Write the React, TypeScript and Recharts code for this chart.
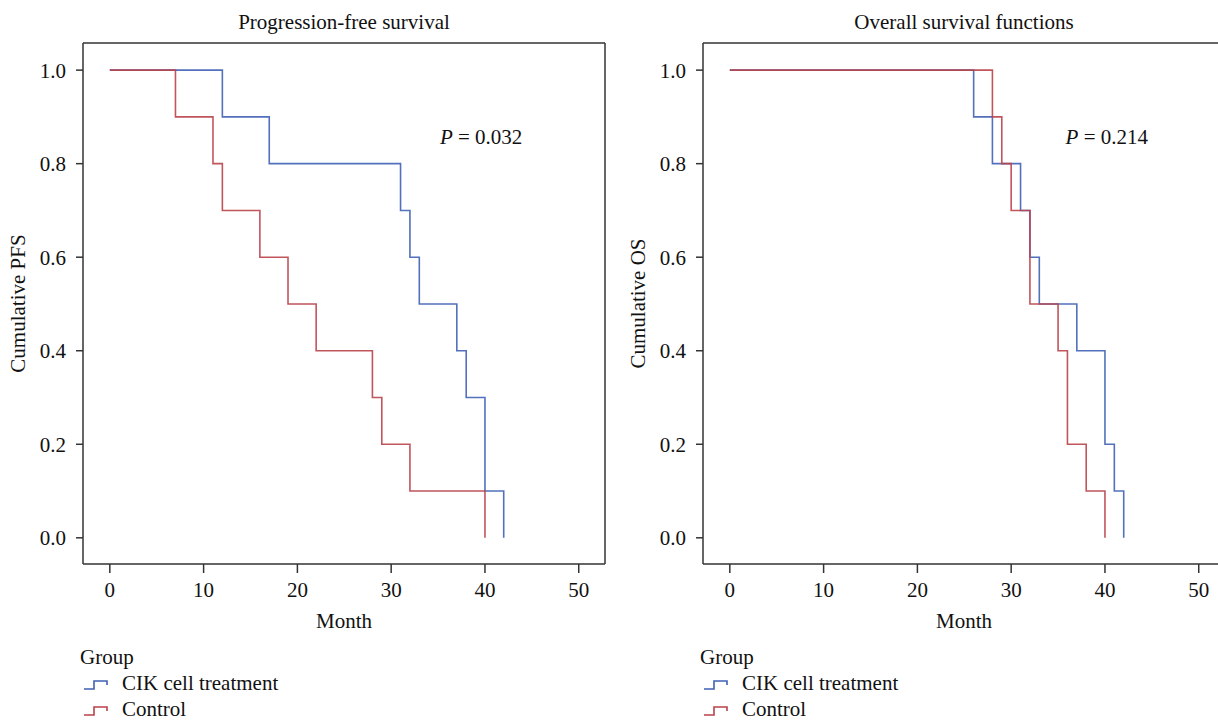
import {Legend, Line, LineChart, ReferenceDot, XAxis, YAxis} from "recharts";

const monthTicks = [0, 10, 20, 30, 40, 50];
const survTicks = [0, 0.2, 0.4, 0.6, 0.8, 1];

// progression-free survival
const pfsCikMonths = [0, 12, 17, 31, 32, 33, 37, 38, 40, 42];
const pfsCikSurv = [1, 0.9, 0.8, 0.7, 0.6, 0.5, 0.4, 0.3, 0.1, 0];
const pfsCtrlMonths = [0, 7, 11, 12, 16, 19, 22, 28, 29, 32, 40];
const pfsCtrlSurv = [1, 0.9, 0.8, 0.7, 0.6, 0.5, 0.4, 0.3, 0.2, 0.1, 0];

// overall survival
const osCikMonths = [0, 26, 28, 31, 32, 33, 37, 40, 41, 42];
const osCikSurv = [1, 0.9, 0.8, 0.7, 0.6, 0.5, 0.4, 0.2, 0.1, 0];
const osCtrlMonths = [0, 28, 29, 30, 32, 35, 36, 38, 40];
const osCtrlSurv = [1, 0.9, 0.8, 0.7, 0.5, 0.4, 0.2, 0.1, 0];

const groupNames = ["CIK cell treatment", "Control"];

const BLUE = "#3f60b4";
const RED = "#b9424a";
const AXIS = "#333";
const FONT = "'Liberation Serif', 'DejaVu Serif', serif";
const FS = 21;

const toRows = (months: number[], surv: number[]) => months.map((t, i) => ({t, s: surv[i]}));

const StepIcon = ({color}: { color: string }) => (
    <svg width={26} height={12} style={{marginLeft: 3, marginRight: 13, verticalAlign: "middle"}}>
        <path d="M1 10 H11 V2 H24 V6" fill="none" stroke={color} strokeWidth={1.6}/>
    </svg>
);

const GroupLegend = (props: any) => (
    <div style={{fontFamily: FONT, fontSize: FS, color: "#111", lineHeight: "26px"}}>
        <div>Group</div>
        {(props.payload || []).map((p: any) => (
            <div key={p.value}><StepIcon color={p.color}/>{p.value}</div>
        ))}
    </div>
);

interface ChartProps {
    title: string;
    yLabel: string;
    pText: string;
    pMonth: number;
    cik: { t: number; s: number }[];
    ctrl: { t: number; s: number }[];
}

const SurvivalChart = ({title, yLabel, pText, pMonth, cik, ctrl}: ChartProps) => (
    <LineChart width={640} height={720} margin={{top: 0, right: 0, bottom: 80, left: 0}}>
        <XAxis xAxisId="top" orientation="top" type="number" domain={[0, 1]} height={43}
               tick={false} tickLine={false} axisLine={{stroke: AXIS, strokeWidth: 1.5}}
               label={{value: title, position: "center", fill: "#111", fontSize: FS, fontFamily: FONT}}/>
        <XAxis dataKey="t" type="number" domain={[-2.86, 52.8]} ticks={monthTicks} allowDataOverflow
               height={76} tickSize={9} tickMargin={9}
               tick={{fill: "#111", fontSize: FS, fontFamily: FONT}}
               axisLine={{stroke: AXIS, strokeWidth: 1.5}} tickLine={{stroke: AXIS, strokeWidth: 1.5}}
               label={{value: "Month", position: "center", dy: 19, fill: "#111", fontSize: FS, fontFamily: FONT}}/>
        <YAxis type="number" domain={[-0.056, 1.058]} ticks={survTicks} allowDataOverflow
               width={83} tickSize={7} tickMargin={10}
               tickFormatter={(v: number) => v.toFixed(1)}
               tick={{fill: "#111", fontSize: FS, fontFamily: FONT}}
               axisLine={{stroke: AXIS, strokeWidth: 1.5}} tickLine={{stroke: AXIS, strokeWidth: 1.5}}
               label={{value: yLabel, angle: -90, position: "insideLeft", offset: 18,
                   style: {textAnchor: "middle"}, fill: "#111", fontSize: FS, fontFamily: FONT}}/>
        <YAxis yAxisId="right" orientation="right" type="number" domain={[0, 1]} width={35}
               tick={false} tickLine={false} axisLine={{stroke: AXIS, strokeWidth: 1.5}}/>
        <Line data={cik} dataKey="s" name={groupNames[0]} type="stepAfter" stroke={BLUE} strokeWidth={1.6}
              strokeOpacity={0.9} dot={false} activeDot={false} isAnimationActive={false}/>
        <Line data={ctrl} dataKey="s" name={groupNames[1]} type="stepAfter" stroke={RED} strokeWidth={1.6}
              strokeOpacity={0.9} dot={false} activeDot={false} isAnimationActive={false}/>
        <ReferenceDot x={pMonth} y={0.857} r={0} ifOverflow="visible"
                      shape={(p: any) => (
                          <text x={p.cx} y={p.cy} dy="0.35em" fill="#111" fontSize={FS} fontFamily={FONT}>
                              <tspan fontStyle="italic">P</tspan> = {pText}
                          </text>
                      )}/>
        <Legend layout="horizontal" verticalAlign="middle" align="center" content={GroupLegend}
                wrapperStyle={{top: 644, left: 80, width: 300, height: 80}}/>
    </LineChart>
);

export default function App() {
    return (
        <div style={{position: "fixed", left: 0, top: 0, width: 1218, height: 720, overflow: "hidden", background: "#fff"}}>
            <div style={{position: "absolute", left: 0, top: 0, width: 620, height: 720, overflow: "hidden"}}>
                <SurvivalChart title="Progression-free survival" yLabel="Cumulative PFS" pText="0.032" pMonth={35.2}
                               cik={toRows(pfsCikMonths, pfsCikSurv)} ctrl={toRows(pfsCtrlMonths, pfsCtrlSurv)}/>
            </div>
            <div style={{position: "absolute", left: 620, top: 0, width: 640, height: 720}}>
                <SurvivalChart title="Overall survival functions" yLabel="Cumulative OS" pText="0.214" pMonth={35.8}
                               cik={toRows(osCikMonths, osCikSurv)} ctrl={toRows(osCtrlMonths, osCtrlSurv)}/>
            </div>
        </div>
    );
}
